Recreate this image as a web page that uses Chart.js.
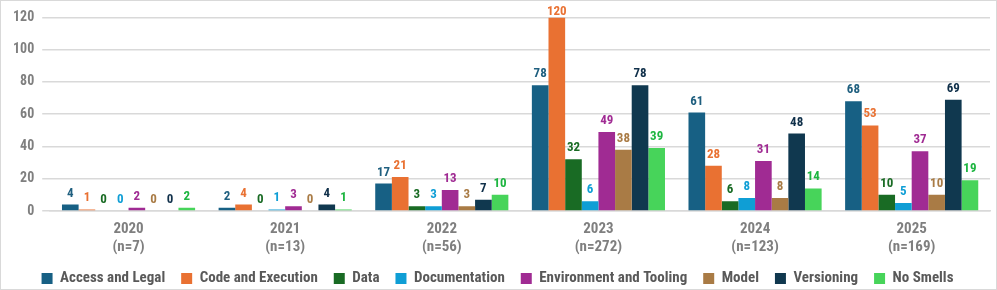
<!DOCTYPE html>
<html>
<head>
<meta charset="utf-8">
<script src="https://cdn.jsdelivr.net/npm/chart.js@4.4.1/dist/chart.umd.min.js"></script>
<style>
  html, body { margin: 0; padding: 0; background: #fff; }
  #wrap { width: 997px; height: 290px; box-sizing: border-box; border: 1px solid #d9d9d9; position: relative; }
  canvas { display: block; }
</style>
</head>
<body>
<div id="wrap"><canvas id="chart" width="995" height="288"></canvas></div>
<script>
const FONT = "'Roboto Condensed', 'Liberation Sans Narrow', 'Arial Narrow', Roboto, sans-serif";

const years = ['2020', '2021', '2022', '2023', '2024', '2025'];
const nCounts = [7, 13, 56, 272, 123, 169];

const seriesNames = ['Access and Legal', 'Code and Execution', 'Data', 'Documentation',
  'Environment and Tooling', 'Model', 'Versioning', 'No Smells'];
const barColors = ['#176084', '#E97132', '#196B24', '#0F9ED5', '#A02B93', '#A97B45', '#10384F', '#47D45A'];
const labelColors = ['#1F5F7F', '#E97132', '#196B24', '#0F9ED5', '#A02B93', '#A97B45', '#10304A', '#1DB540'];

const accessLegal = [4, 2, 17, 78, 61, 68];
const codeExecution = [1, 4, 21, 120, 28, 53];
const dataSmells = [0, 0, 3, 32, 6, 10];
const documentation = [0, 1, 3, 6, 8, 5];
const envTooling = [2, 3, 13, 49, 31, 37];
const model = [0, 0, 3, 38, 8, 10];
const versioning = [0, 4, 7, 78, 48, 69];
const noSmells = [2, 1, 10, 39, 14, 19];

const seriesValues = [accessLegal, codeExecution, dataSmells, documentation, envTooling, model, versioning, noSmells];

const labels = years.map((y, i) => [y, '(n=' + nCounts[i] + ')']);

// draws the value above every bar in the series colour
const valueLabels = {
  id: 'valueLabels',
  afterDatasetsDraw(chart) {
    const ctx = chart.ctx;
    ctx.save();
    ctx.font = 'bold 13px ' + FONT;
    ctx.textAlign = 'center';
    ctx.textBaseline = 'alphabetic';
    chart.data.datasets.forEach((ds, di) => {
      const meta = chart.getDatasetMeta(di);
      if (meta.hidden) return;
      meta.data.forEach((bar, i) => {
        ctx.fillStyle = labelColors[di];
        // keep the tallest label inside the canvas
        const y = Math.max(bar.y - 8, 14);
        ctx.fillText(String(ds.data[i]), bar.x, y);
      });
    });
    ctx.restore();
  }
};

// legend is a bit too tall by default, trim its box and nudge it up
// (legend clips to its own box, so widen the box while drawing)
const legendFit = {
  id: 'legendFit',
  beforeInit(chart) {
    const lg = chart.legend;
    const origFit = lg.fit;
    const origDraw = lg.draw;
    lg.fit = function () {
      origFit.call(this);
      this.height -= 14;
    };
    lg.draw = function () {
      const b = this.bottom;
      this.bottom = b + 12;
      this.ctx.save();
      this.ctx.translate(0, -2);
      origDraw.call(this);
      this.ctx.restore();
      this.bottom = b;
    };
  }
};

new Chart(document.getElementById('chart'), {
  type: 'bar',
  data: {
    labels,
    datasets: seriesNames.map((name, i) => ({
      label: name,
      data: seriesValues[i],
      backgroundColor: barColors[i],
      borderWidth: 0,
      categoryPercentage: 0.85,
      barPercentage: 1.0
    }))
  },
  options: {
    responsive: false,
    animation: false,
    layout: { padding: { top: 14, right: 6, left: 4, bottom: 5 } },
    plugins: {
      legend: {
        position: 'bottom',
        labels: {
          boxWidth: 11,
          boxHeight: 11,
          padding: 16,
          color: '#595959',
          font: { family: FONT, size: 15, weight: 'bold' }
        }
      },
      tooltip: { enabled: false }
    },
    scales: {
      x: {
        grid: { display: false },
        border: { color: '#d9d9d9', width: 1.5 },
        ticks: {
          color: '#7f7f7f',
          font: { family: FONT, size: 15, weight: 'bold', lineHeight: 1.2 },
          padding: 1
        }
      },
      y: {
        min: 0,
        max: 120,
        ticks: {
          stepSize: 20,
          color: '#7f7f7f',
          font: { family: FONT, size: 14, weight: 'bold' },
          padding: 8
        },
        grid: { color: '#d9d9d9', lineWidth: 1.5 },
        border: { display: false }
      }
    }
  },
  plugins: [valueLabels, legendFit]
});
</script>
</body>
</html>
